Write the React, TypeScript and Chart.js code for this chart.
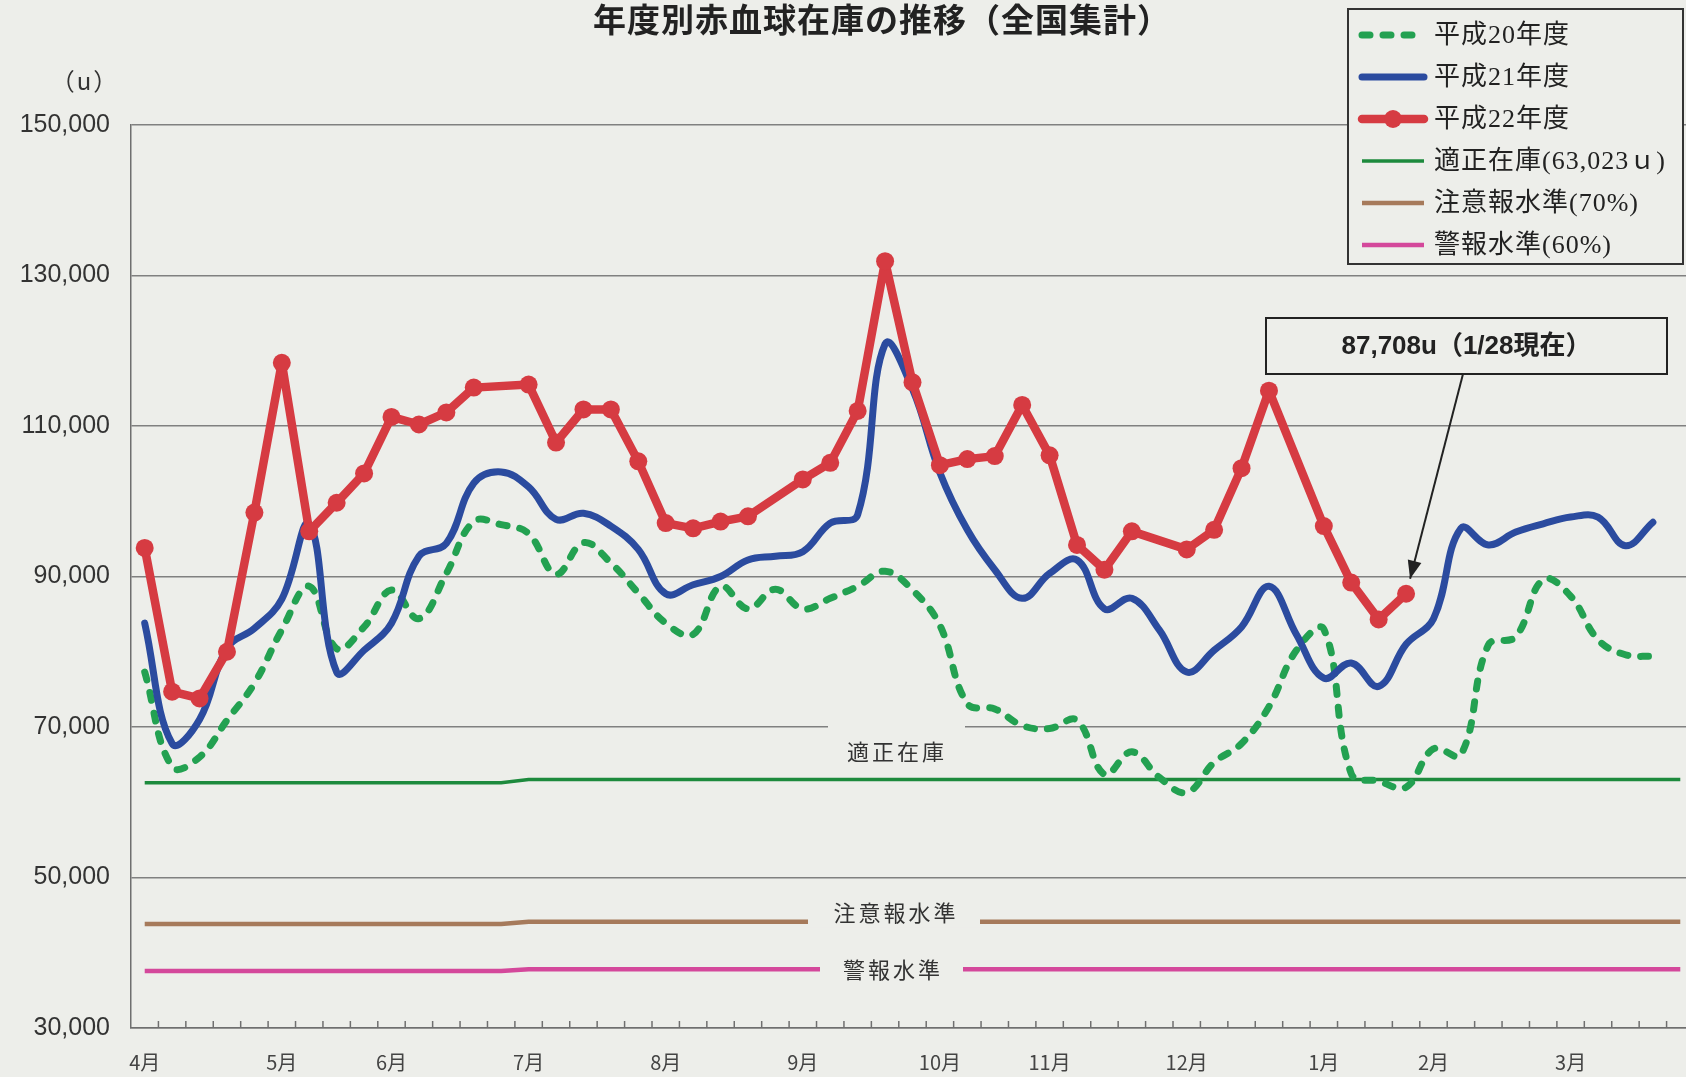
import React, { useEffect, useRef } from 'react';
import { Chart, registerables } from 'chart.js';

Chart.register(...registerables);

const TITLE = '年度別赤血球在庫の推移（全国集計）';
const UNIT_LABEL = '（u）';
const NOTE_TEXT = '87,708u（1/28現在）';
const NOTE_INDEX = 46;

const monthNames = ['4月', '5月', '6月', '7月', '8月', '9月', '10月', '11月', '12月', '1月', '2月', '3月'];
const monthStartIdx = [0, 5, 9, 14, 19, 24, 29, 33, 38, 43, 47, 52];
const WEEK_COUNT = 57;
const yTicks = [30000, 50000, 70000, 90000, 110000, 130000, 150000];

// 平成20年度
const h20 = [
  77300, 64700, 66000, 70900, 75800, 82900, 88700, 80400, 83300, 88200,
  84400, 90400, 97300, 96900, 95700, 90300, 94500, 91800, 87800, 83800,
  82300, 88700, 85700, 88300, 85700, 87100, 88700, 90700, 88200, 83500,
  73100, 72400, 70200, 69800, 70900, 63700, 66700, 63300, 61300, 65300,
  67800, 72700, 80200, 83000, 63800, 62800, 62000, 67100, 66300, 80900,
  82000, 89600, 87400, 81600, 79600, 79400, null,
];
// 平成21年度
const h21 = [
  83800, 67800, 71000, 80500, 83100, 87000, 97000, 77300, 80200, 83800,
  92700, 94400, 102400, 103900, 101900, 97600, 98400, 96700, 93600, 87700,
  88900, 90000, 92200, 92700, 93300, 97100, 98200, 120900, 114900, 103800,
  96200, 90900, 87100, 90400, 92200, 85700, 87100, 82900, 77300, 80200,
  83300, 88700, 82300, 76500, 78500, 75400, 81000, 84400, 96400, 94200,
  95900, 97000, 97900, 97900, 94100, 97200, null,
];
// 平成22年度
const h22 = [
  93800, 74700, 73800, 80000, 98500, 118400, 96000, 99800, 103700, 111200,
  110200, 111800, 115100, null, 115500, 107800, 112200, 112200, 105300, 97100,
  96400, 97300, 98000, null, 102900, 105100, 112000, 131900, 115800, 104800,
  105600, 106000, 112800, 106100, 94200, 90900, 96000, null, 93600, 96200,
  104400, 114700, null, 96700, 89200, 84300, 87708, null, null, null,
  null, null, null, null, null, null, null,
];
// 適正在庫
const optimalStock = [
  62600, 62600, 62600, 62600, 62600, 62600, 62600, 62600, 62600, 62600,
  62600, 62600, 62600, 62600, 63023, 63023, 63023, 63023, 63023, 63023,
  63023, 63023, 63023, 63023, 63023, 63023, 63023, 63023, 63023, 63023,
  63023, 63023, 63023, 63023, 63023, 63023, 63023, 63023, 63023, 63023,
  63023, 63023, 63023, 63023, 63023, 63023, 63023, 63023, 63023, 63023,
  63023, 63023, 63023, 63023, 63023, 63023, 63023,
];
// 注意報水準(70%)
const cautionLevel = [
  43820, 43820, 43820, 43820, 43820, 43820, 43820, 43820, 43820, 43820,
  43820, 43820, 43820, 43820, 44116, 44116, 44116, 44116, 44116, 44116,
  44116, 44116, 44116, 44116, 44116, 44116, 44116, 44116, 44116, 44116,
  44116, 44116, 44116, 44116, 44116, 44116, 44116, 44116, 44116, 44116,
  44116, 44116, 44116, 44116, 44116, 44116, 44116, 44116, 44116, 44116,
  44116, 44116, 44116, 44116, 44116, 44116, 44116,
];
// 警報水準(60%)
const alarmLevel = [
  37560, 37560, 37560, 37560, 37560, 37560, 37560, 37560, 37560, 37560,
  37560, 37560, 37560, 37560, 37814, 37814, 37814, 37814, 37814, 37814,
  37814, 37814, 37814, 37814, 37814, 37814, 37814, 37814, 37814, 37814,
  37814, 37814, 37814, 37814, 37814, 37814, 37814, 37814, 37814, 37814,
  37814, 37814, 37814, 37814, 37814, 37814, 37814, 37814, 37814, 37814,
  37814, 37814, 37814, 37814, 37814, 37814, 37814,
];

const BG = '#edeeea';
const JP = '"Noto Sans CJK JP", "Noto Sans", sans-serif';
const LEGEND_FONT = '26px "Liberation Serif", "Noto Sans CJK JP", serif';

const labels = Array.from({ length: WEEK_COUNT }, (_, i) => {
  const k = monthStartIdx.indexOf(i);
  return k >= 0 ? monthNames[k] : '';
});

function setSpacing(ctx: any, v: string) {
  if ('letterSpacing' in ctx) ctx.letterSpacing = v;
}

const decorPlugin = {
  id: 'decor',
  beforeDraw(chart: any) {
    const { ctx, width, height } = chart;
    ctx.save();
    ctx.fillStyle = BG;
    ctx.fillRect(0, 0, width, height);
    ctx.restore();
  },
  afterDatasetsDraw(chart: any) {
    const { ctx } = chart;
    const y = chart.scales.y;
    ctx.save();
    ctx.fillStyle = BG;
    ctx.fillRect(828, 721, 137, 47);
    const yc = y.getPixelForValue(cautionLevel[30]);
    ctx.fillRect(808, yc - 6, 172, 12);
    const ya = y.getPixelForValue(alarmLevel[30]);
    ctx.fillRect(820, ya - 6, 143, 12);

    ctx.fillStyle = '#333';
    ctx.font = `22px ${JP}`;
    ctx.textAlign = 'center';
    ctx.textBaseline = 'middle';
    setSpacing(ctx, '3px');
    ctx.fillText('適正在庫', 897, 752);
    ctx.fillText('注意報水準', 896, yc - 9);
    ctx.fillText('警報水準', 893, ya);
    setSpacing(ctx, '0px');
    ctx.restore();
  },
  afterDraw(chart: any) {
    const { ctx, chartArea } = chart;
    const x = chart.scales.x;
    const y = chart.scales.y;
    ctx.save();

    const w = x.getPixelForValue(1) - x.getPixelForValue(0);
    ctx.strokeStyle = '#6f6f6f';
    ctx.lineWidth = 1.5;
    for (let k = 1; k < WEEK_COUNT; k++) {
      const px = x.getPixelForValue(k) - w / 2;
      ctx.beginPath();
      ctx.moveTo(px, chartArea.bottom);
      ctx.lineTo(px, chartArea.bottom - 7);
      ctx.stroke();
    }

    ctx.fillStyle = '#222';
    ctx.font = `bold 33px ${JP}`;
    ctx.textAlign = 'center';
    ctx.textBaseline = 'middle';
    setSpacing(ctx, '1px');
    ctx.fillText(TITLE, 882, 19);
    setSpacing(ctx, '0px');

    ctx.fillStyle = '#333';
    ctx.font = `24px ${JP}`;
    setSpacing(ctx, '2px');
    ctx.fillText(UNIT_LABEL, 85, 81);
    setSpacing(ctx, '0px');

    const bx = 1348, by = 9, bw = 335, bh = 255;
    ctx.fillStyle = BG;
    ctx.fillRect(bx, by, bw, bh);
    ctx.strokeStyle = '#333';
    ctx.lineWidth = 2;
    ctx.strokeRect(bx, by, bw, bh);
    chart.data.datasets.forEach((ds: any, k: number) => {
      const cy = 35 + 42 * k;
      ctx.save();
      ctx.strokeStyle = ds.borderColor;
      ctx.lineWidth = ds.borderWidth;
      ctx.lineCap = ds.borderCapStyle || 'butt';
      ctx.setLineDash(ds.borderDash || []);
      ctx.beginPath();
      ctx.moveTo(1362, cy);
      ctx.lineTo(1424, cy);
      ctx.stroke();
      if (ds.pointRadius > 0) {
        ctx.setLineDash([]);
        ctx.fillStyle = ds.pointBackgroundColor;
        ctx.beginPath();
        ctx.arc(1393, cy, ds.pointRadius, 0, Math.PI * 2);
        ctx.fill();
      }
      ctx.restore();
      ctx.fillStyle = '#222';
      ctx.font = LEGEND_FONT;
      ctx.textAlign = 'left';
      ctx.textBaseline = 'middle';
      setSpacing(ctx, '1px');
      ctx.fillText(ds.label, 1434, cy + 1);
      setSpacing(ctx, '0px');
    });

    const nx = 1266, ny = 318, nw = 401, nh = 56;
    ctx.fillStyle = BG;
    ctx.fillRect(nx, ny, nw, nh);
    ctx.strokeStyle = '#222';
    ctx.lineWidth = 2;
    ctx.strokeRect(nx, ny, nw, nh);
    ctx.fillStyle = '#222';
    ctx.font = `bold 26px "Liberation Sans", ${JP}`;
    ctx.textAlign = 'center';
    ctx.textBaseline = 'middle';
    ctx.fillText(NOTE_TEXT, nx + nw / 2, ny + nh / 2 + 1);

    const tx = x.getPixelForValue(NOTE_INDEX) + 4;
    const ty = y.getPixelForValue(h22[NOTE_INDEX] as number) - 15;
    const sx = 1463, sy = ny + nh;
    ctx.strokeStyle = '#222';
    ctx.lineWidth = 2;
    ctx.beginPath();
    ctx.moveTo(sx, sy);
    ctx.lineTo(tx, ty);
    ctx.stroke();
    const ang = Math.atan2(ty - sy, tx - sx);
    const hl = 18, hw = 7;
    ctx.fillStyle = '#222';
    ctx.beginPath();
    ctx.moveTo(tx, ty);
    ctx.lineTo(tx - hl * Math.cos(ang) + hw * Math.sin(ang), ty - hl * Math.sin(ang) - hw * Math.cos(ang));
    ctx.lineTo(tx - hl * Math.cos(ang) - hw * Math.sin(ang), ty - hl * Math.sin(ang) + hw * Math.cos(ang));
    ctx.closePath();
    ctx.fill();

    ctx.restore();
  },
};

export default function App() {
  const ref = useRef<HTMLCanvasElement>(null);
  useEffect(() => {
    document.body.style.margin = '0';
    const red = '#d63b42';
    const chart = new Chart(ref.current as HTMLCanvasElement, {
      type: 'line',
      data: {
        labels,
        datasets: [
          {
            label: '平成20年度', data: h20, borderColor: '#23a151', borderWidth: 7,
            borderDash: [8, 13], borderCapStyle: 'round', borderJoinStyle: 'round',
            tension: 0.4, pointRadius: 0, order: 3, fill: false,
          },
          {
            label: '平成21年度', data: h21, borderColor: '#2b4b9f', borderWidth: 7,
            borderCapStyle: 'round', borderJoinStyle: 'round', tension: 0.4, pointRadius: 0, order: 2, fill: false,
          },
          {
            label: '平成22年度', data: h22, borderColor: red, borderWidth: 8.5, tension: 0,
            borderCapStyle: 'round', borderJoinStyle: 'round',
            pointRadius: 9, pointHoverRadius: 9, pointBackgroundColor: red, pointBorderColor: red,
            pointBorderWidth: 0, spanGaps: true, order: 1, fill: false,
          },
          {
            label: '適正在庫(63,023ｕ)', data: optimalStock, borderColor: '#1d8a3d', borderWidth: 3.5,
            tension: 0, pointRadius: 0, order: 4, fill: false,
          },
          {
            label: '注意報水準(70%)', data: cautionLevel, borderColor: '#a67a5b', borderWidth: 4.5,
            tension: 0, pointRadius: 0, order: 5, fill: false,
          },
          {
            label: '警報水準(60%)', data: alarmLevel, borderColor: '#d4489b', borderWidth: 4.5,
            tension: 0, pointRadius: 0, order: 6, fill: false,
          },
        ],
      } as any,
      options: {
        animation: false,
        responsive: true,
        maintainAspectRatio: false,
        devicePixelRatio: 1,
        layout: { padding: { top: 125, left: 0, right: 0, bottom: 0 } },
        plugins: {
          legend: { display: false },
          title: { display: false },
          tooltip: { enabled: false },
        },
        events: [],
        scales: {
          x: {
            type: 'category',
            offset: true,
            grid: { display: false, drawTicks: false },
            border: { display: true, color: '#6f6f6f', width: 1.5 },
            ticks: {
              autoSkip: false, maxRotation: 0, minRotation: 0, padding: 22,
              color: '#444', font: { family: JP, size: 20 },
            },
            afterFit: (s: any) => { s.height = 49; },
          },
          y: {
            type: 'linear',
            min: 30000,
            max: 150000,
            afterBuildTicks: (s: any) => { s.ticks = yTicks.map((v) => ({ value: v })); },
            grid: { color: '#808080', lineWidth: 1.5, drawTicks: false },
            border: { display: true, color: '#6f6f6f', width: 1.5 },
            ticks: {
              padding: 21, color: '#333',
              font: { family: '"Liberation Sans", Arial, sans-serif', size: 25 },
              callback: (v: any) => Number(v).toLocaleString('en-US'),
            },
            afterFit: (s: any) => { s.width = 131; },
          },
        },
      } as any,
      plugins: [decorPlugin],
    });
    return () => chart.destroy();
  }, []);

  return (
    <div style={{ position: 'fixed', left: 0, top: 0, width: 1686, height: 1077, overflow: 'hidden', background: BG }}>
      <div style={{ position: 'absolute', left: 0, top: 0, width: 1703, height: 1077 }}>
        <canvas ref={ref} />
      </div>
    </div>
  );
}
